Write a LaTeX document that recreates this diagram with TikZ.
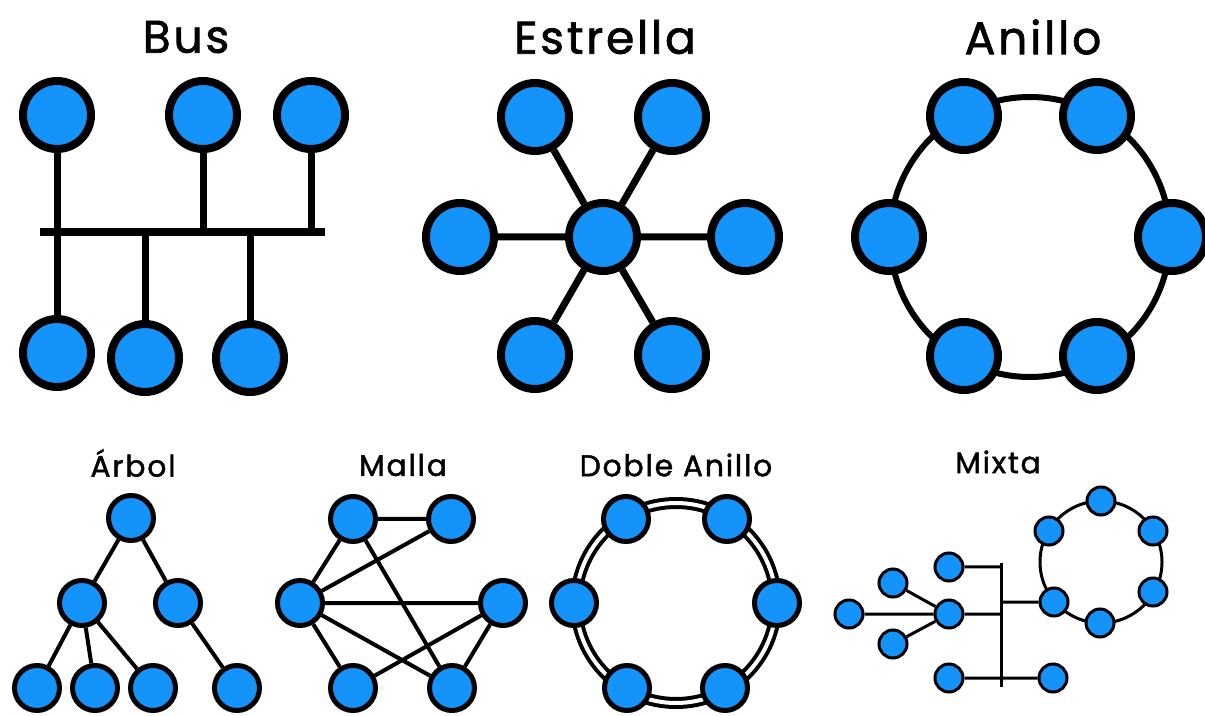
\documentclass[tikz,border=0pt]{standalone}
\usepackage{fontspec}
\setmainfont{Poppins}
\newfontfamily\rotulo{Poppins}[LetterSpace=6, FakeBold=1.5]
\definecolor{nodoazul}{RGB}{20,148,250}

\tikzset{
    px/.style={x=0.02cm, y=-0.02cm},
    grande/.style={draw, circle, fill=nodoazul, line width=8*0.02cm, minimum size=68*0.02cm, inner sep=0pt},
    medio/.style={draw, circle, fill=nodoazul, line width=5*0.02cm, minimum size=45*0.02cm, inner sep=0pt},
    chico/.style={draw, circle, fill=nodoazul, line width=3*0.02cm, minimum size=28*0.02cm, inner sep=0pt},
    titulo/.style={font=\rotulo\fontsize{26}{30}\selectfont},
    subtitulo/.style={font=\rotulo\fontsize{17}{20}\selectfont},
}

\begin{document}
\begin{tikzpicture}[px]
    \useasboundingbox (0,0) rectangle (1205,716);

    %% ** Bus
    \node[titulo] (tBus) at (186,37) {Bus};
    \coordinate (busL) at (40,232);
    \coordinate (busR) at (325,232);
    \draw[line width=8*0.02cm] (busL) -- (busR);
    \node[grande] (b1) at (57,115) {};
    \node[grande] (b2) at (203,115) {};
    \node[grande] (b3) at (311,115) {};
    \node[grande] (b4) at (57,353) {};
    \node[grande] (b5) at (145,358) {};
    \node[grande] (b6) at (250,358) {};
    \draw[line width=7*0.02cm]
        (b1) -- (b1 |- busL)
        (b2) -- (b2 |- busL)
        (b3) -- (b3 |- busL)
        (b4) -- (b4 |- busL)
        (b5) -- (b5 |- busL)
        (b6) -- (b6 |- busL);

    %% ** Estrella
    \node[titulo] (tEstrella) at (605,37) {Estrella};
    \node[grande] (e0) at (603,237) {};
    \node[grande] (e1) at (535,117) {};
    \node[grande] (e2) at (672,117) {};
    \node[grande] (e3) at (460,237) {};
    \node[grande] (e4) at (745,237) {};
    \node[grande] (e5) at (535,355) {};
    \node[grande] (e6) at (672,355) {};
    \draw[line width=7*0.02cm] (e0) -- (e1) (e0) -- (e2) (e0) -- (e3) (e0) -- (e4) (e0) -- (e5) (e0) -- (e6);

    %% ** Anillo
    \node[titulo] (tAnillo) at (1033,37) {Anillo};
    \coordinate (anilloC) at (1030,237);
    \draw[line width=6*0.02cm] (anilloC) circle[radius=140];
    \node[grande] (a1) at (964,116) {};
    \node[grande] (a2) at (1097,116) {};
    \node[grande] (a3) at (889,237) {};
    \node[grande] (a4) at (1172,237) {};
    \node[grande] (a5) at (964,356) {};
    \node[grande] (a6) at (1097,356) {};

    %% ** Arbol
    \node[subtitulo] (tArbol) at (133,463) {Árbol};
    \node[medio] (r0) at (131,518) {};
    \node[medio] (r1) at (82,603) {};
    \node[medio] (r2) at (178,603) {};
    \node[medio] (r3) at (37,688) {};
    \node[medio] (r4) at (95,688) {};
    \node[medio] (r5) at (153,688) {};
    \node[medio] (r6) at (237,688) {};
    \draw[line width=4*0.02cm] (r0) -- (r1) (r0) -- (r2) (r1) -- (r3) (r1) -- (r4) (r1) -- (r5) (r2) -- (r6);

    %% ** Malla
    \node[subtitulo] (tMalla) at (403,465) {Malla};
    \node[medio] (m1) at (353,519) {};
    \node[medio] (m2) at (451,519) {};
    \node[medio] (m3) at (300,603) {};
    \node[medio] (m4) at (503,603) {};
    \node[medio] (m5) at (353,688) {};
    \node[medio] (m6) at (452,688) {};
    \draw[line width=4*0.02cm] (m1) -- (m2) (m1) -- (m3) (m2) -- (m3) (m1) -- (m6) (m3) -- (m4) (m3) -- (m5) (m3) -- (m6) (m4) -- (m5) (m4) -- (m6);

    %% ** Doble Anillo
    \node[subtitulo] (tDoble) at (676,465) {Doble Anillo};
    \coordinate (dobleC) at (676,603);
    \draw[line width=4*0.02cm, double=white, double distance=4*0.02cm] (dobleC) circle[radius=100];
    \node[medio] (d1) at (626,519) {};
    \node[medio] (d2) at (727,519) {};
    \node[medio] (d3) at (574,603) {};
    \node[medio] (d4) at (777,603) {};
    \node[medio] (d5) at (627,688) {};
    \node[medio] (d6) at (725,688) {};

    %% ** Mixta
    \node[subtitulo] (tMixta) at (998,462) {Mixta};
    \coordinate (mixC) at (1101,562);
    \draw[line width=3*0.02cm] (mixC) circle[radius=61];
    \coordinate (ejeA) at (1001,563);
    \coordinate (ejeB) at (1001,687);
    \draw[line width=3*0.02cm] (ejeA) -- (ejeB);
    \node[chico] (x1) at (849,614) {};
    \node[chico] (x2) at (893,583) {};
    \node[chico] (x3) at (893,644) {};
    \node[chico] (x4) at (949,614) {};
    \node[chico] (x5) at (949,567) {};
    \node[chico] (x6) at (949,678) {};
    \node[chico] (x7) at (1053,678) {};
    \node[chico] (k1) at (1054,602) {};
    \node[chico] (k2) at (1049,531) {};
    \node[chico] (k3) at (1101,501) {};
    \node[chico] (k4) at (1153,531) {};
    \node[chico] (k5) at (1153,592) {};
    \node[chico] (k6) at (1100,623) {};
    \draw[line width=3*0.02cm]
        (x1) -- (x4) (x2) -- (x4) (x3) -- (x4)
        (x5) -- (x5 -| ejeA)
        (x4) -- (x4 -| ejeA)
        (x6) -- (x7)
        (k1) -- (k1 -| ejeA);
\end{tikzpicture}
\end{document}
